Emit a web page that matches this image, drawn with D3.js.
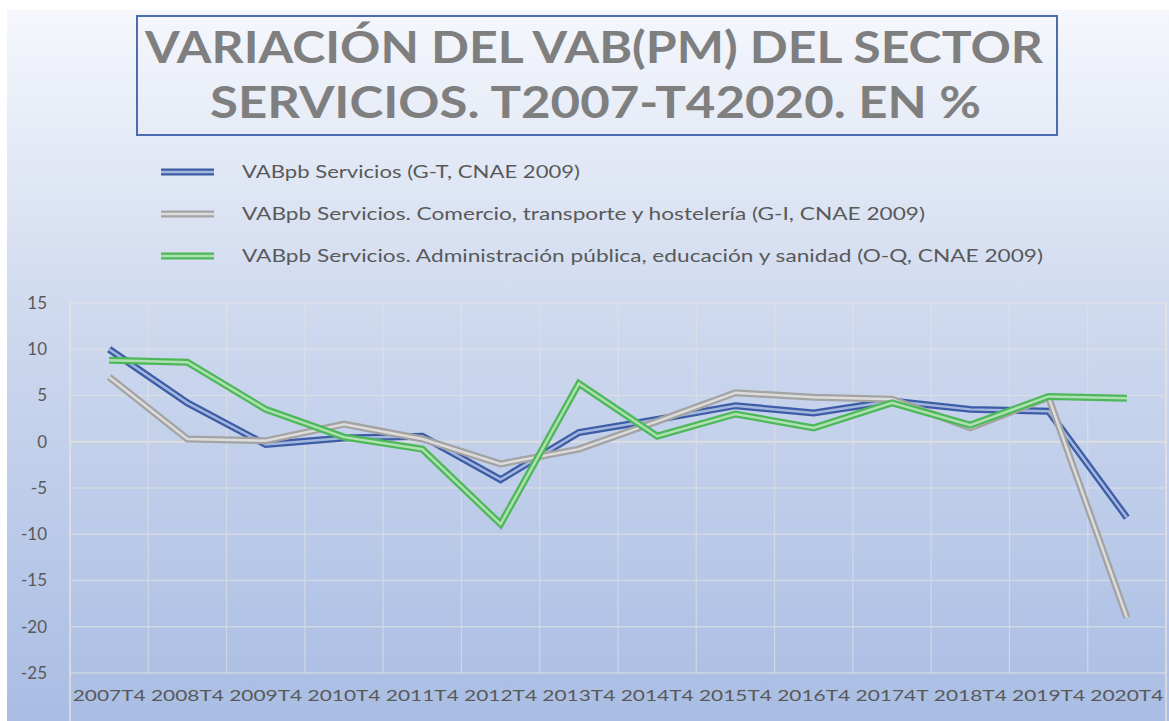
<!DOCTYPE html>
<html>
<head>
<meta charset="utf-8">
<script src="https://cdn.jsdelivr.net/npm/d3@7"></script>
<style>
  body { margin: 0; background: #fff; }
  svg { display: block; }
  text { font-family: Lato, "Open Sans", sans-serif; }
</style>
</head>
<body>
<script>
// categories and series
const categories = ["2007T4", "2008T4", "2009T4", "2010T4", "2011T4", "2012T4", "2013T4",
                    "2014T4", "2015T4", "2016T4", "20174T", "2018T4", "2019T4", "2020T4"];
const serviciosGT = [10.0, 4.2, -0.3, 0.4, 0.6, -4.1, 1.0, 2.4, 3.9, 3.1, 4.4, 3.5, 3.3, -8.2];
const comercioGI  = [7.0, 0.3, 0.1, 1.9, 0.3, -2.4, -0.8, 2.2, 5.3, 4.8, 4.6, 1.5, 4.8, -19.0];
const adminOQ     = [8.8, 8.6, 3.5, 0.5, -0.8, -8.9, 6.3, 0.6, 3.0, 1.5, 4.2, 1.8, 4.9, 4.7];
const seriesNames = [
  "VABpb Servicios (G-T, CNAE 2009)",
  "VABpb Servicios. Comercio, transporte y hostelería (G-I, CNAE 2009)",
  "VABpb Servicios. Administración pública, educación y sanidad (O-Q, CNAE 2009)"
];
const yTicks = [15, 10, 5, 0, -5, -10, -15, -20, -25];
const titleLines = ["VARIACIÓN DEL VAB(PM) DEL SECTOR", "SERVICIOS. T2007-T42020. EN %"];

const width = 1169, height = 721;

const series = [
  { name: seriesNames[0], values: serviciosGT, color: "#3c5ca6", inner: "#a3b6de" },
  { name: seriesNames[1], values: comercioGI,  color: "#a3a3a3", inner: "#dcdcdc" },
  { name: seriesNames[2], values: adminOQ,     color: "#4db85a", inner: "#aee0b0" }
];

const svg = d3.select("body").append("svg")
    .attr("width", width)
    .attr("height", height);

// background gradient
const defs = svg.append("defs");
const grad = defs.append("linearGradient")
    .attr("id", "bg")
    .attr("x1", 0).attr("y1", 0).attr("x2", 0).attr("y2", 1);
grad.append("stop").attr("offset", "0%").attr("stop-color", "#f5f7fc");
grad.append("stop").attr("offset", "45%").attr("stop-color", "#cdd8ee");
grad.append("stop").attr("offset", "100%").attr("stop-color", "#a9bde3");

svg.append("rect")
    .attr("x", 7).attr("y", 10)
    .attr("width", width - 7).attr("height", height - 10)
    .attr("fill", "url(#bg)");

// scales
const x = d3.scaleBand().domain(categories).range([70, 1166]);
const y = d3.scaleLinear().domain([-25, 15]).range([673, 303]);

// gridlines
const grid = svg.append("g").attr("opacity", 0.6);
grid.selectAll(".hgrid")
    .data(yTicks)
    .enter().append("line")
    .attr("x1", 70).attr("x2", 1166)
    .attr("y1", d => y(d)).attr("y2", d => y(d))
    .attr("stroke", d => d === 0 ? "#f2e8d8" : "#e4e4e4")
    .attr("stroke-width", d => d === 0 ? 2 : 1.3);

grid.selectAll(".vgrid")
    .data(categories.slice(1))
    .enter().append("line")
    .attr("x1", d => x(d)).attr("x2", d => x(d))
    .attr("y1", y(15)).attr("y2", y(-25))
    .attr("stroke", "#e4e4e4")
    .attr("stroke-width", 1.3);

// frame sides
[70, 1166].forEach(px => {
  grid.append("line")
      .attr("x1", px).attr("x2", px)
      .attr("y1", y(15)).attr("y2", height)
      .attr("stroke", "#efe8dc")
      .attr("stroke-width", 2);
});

// y axis labels
svg.append("g").selectAll("text")
    .data(yTicks)
    .enter().append("text")
    .attr("x", 47)
    .attr("y", d => y(d))
    .attr("dy", "0.35em")
    .attr("text-anchor", "end")
    .attr("fill", "#595959")
    .style("font-size", "17px")
    .text(d => d);

// x axis labels
svg.append("g").selectAll("text")
    .data(categories)
    .enter().append("text")
    .attr("x", d => x(d) + x.bandwidth() / 2)
    .attr("y", 701)
    .attr("text-anchor", "middle")
    .attr("textLength", 73)
    .attr("lengthAdjust", "spacingAndGlyphs")
    .attr("fill", "#595959")
    .style("font-size", "16px")
    .text(d => d);

// lines (double stroke look)
const line = d3.line()
    .x((d, i) => x(categories[i]) + x.bandwidth() / 2)
    .y(d => y(d));

series.forEach(s => {
  svg.append("path")
      .attr("d", line(s.values))
      .attr("fill", "none")
      .attr("stroke", s.color)
      .attr("stroke-width", 7)
      .attr("stroke-linejoin", "miter");
  svg.append("path")
      .attr("d", line(s.values))
      .attr("fill", "none")
      .attr("stroke", s.inner)
      .attr("stroke-width", 2.5)
      .attr("stroke-linejoin", "miter");
});

// title box
svg.append("rect")
    .attr("x", 137).attr("y", 16)
    .attr("width", 920).attr("height", 119)
    .attr("fill", "none")
    .attr("stroke", "#4a6db0")
    .attr("stroke-width", 2);

const titleInfo = [
  { x: 145, y: 63, len: 898 },
  { x: 210, y: 118, len: 771 }
];
svg.append("g").selectAll("text")
    .data(titleLines)
    .enter().append("text")
    .attr("x", (d, i) => titleInfo[i].x)
    .attr("y", (d, i) => titleInfo[i].y)
    .attr("textLength", (d, i) => titleInfo[i].len)
    .attr("lengthAdjust", "spacingAndGlyphs")
    .attr("fill", "#7f7f7f")
    .style("font-size", "43px")
    .style("font-weight", "bold")
    .text(d => d);

// legend
const legendY = [172, 214, 256];
const legendLen = [338, 683, 801];
const legend = svg.append("g");
series.forEach((s, i) => {
  legend.append("line")
      .attr("x1", 161).attr("x2", 214)
      .attr("y1", legendY[i]).attr("y2", legendY[i])
      .attr("stroke", s.color).attr("stroke-width", 7);
  legend.append("line")
      .attr("x1", 161).attr("x2", 214)
      .attr("y1", legendY[i]).attr("y2", legendY[i])
      .attr("stroke", s.inner).attr("stroke-width", 2.5);
  legend.append("text")
      .attr("x", 242)
      .attr("y", legendY[i])
      .attr("dy", "0.35em")
      .attr("textLength", legendLen[i])
      .attr("lengthAdjust", "spacingAndGlyphs")
      .attr("fill", "#595959")
      .style("font-size", "17px")
      .text(s.name);
});
</script>
</body>
</html>
